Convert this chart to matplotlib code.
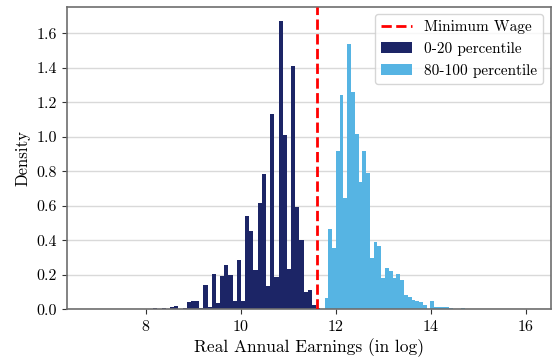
import matplotlib
matplotlib.use("Agg")
import matplotlib.pyplot as plt
import numpy as np

# 数据: 0-20 分位 (navy) 直方图
low_start = 6.748
low_width = 0.0879
low_density = [
    0.001, 0.0, 0.001, 0.002, 0.001, 0.0, 0.002, 0.001,
    0.002, 0.001, 0.002, 0.003, 0.002, 0.002, 0.003, 0.002,
    0.008, 0.003, 0.008, 0.004, 0.013, 0.019, 0.004, 0.008,
    0.042, 0.048, 0.048, 0.008, 0.141, 0.013, 0.205, 0.037,
    0.193, 0.257, 0.197, 0.046, 0.284, 0.046, 0.540, 0.454,
    0.226, 0.617, 0.785, 0.135, 1.133, 0.190, 1.671, 1.010,
    0.234, 1.410, 0.594, 0.402, 0.100, 0.110, 0.025, 0.010,
]

# 数据: 80-100 分位 (light blue) 直方图
high_start = 11.76
high_width = 0.0797
high_density = [
    0.067, 0.465, 0.355, 0.918, 1.242, 0.646, 1.539, 1.261,
    1.016, 0.737, 0.918, 0.790, 0.298, 0.390, 0.366, 0.183,
    0.239, 0.222, 0.183, 0.206, 0.170, 0.083, 0.072, 0.052,
    0.050, 0.045, 0.024, 0.004, 0.050, 0.015, 0.015, 0.014,
    0.012, 0.008, 0.003, 0.002, 0.008, 0.002, 0.001, 0.002,
    0.001, 0.001, 0.002, 0.001, 0.001, 0.001, 0.002, 0.001,
    0.001, 0.001, 0.001, 0.001, 0.001, 0.001,
]

min_wage = 11.6
series_labels = ['0-20 percentile', '80-100 percentile']
x_ticks = [8, 10, 12, 14, 16]
y_ticks = [0.0, 0.2, 0.4, 0.6, 0.8, 1.0, 1.2, 1.4, 1.6]

NAVY = '#1c2566'
SKY = '#56b4e3'

plt.rcParams['font.family'] = 'serif'
plt.rcParams['font.serif'] = ['cmr10', 'DejaVu Serif']
plt.rcParams['mathtext.fontset'] = 'cm'
plt.rcParams['axes.formatter.use_mathtext'] = True
plt.rcParams['axes.unicode_minus'] = False


def draw_hist(ax, start, width, density, color, label):
    """
    按 bin 起点/宽度 画直方图
    """
    edges = start + width * np.arange(len(density) + 1)
    centers = (edges[:-1] + edges[1:]) / 2
    ax.hist(centers, bins=edges, weights=density, color=color,
            label=label, linewidth=0)


fig = plt.figure(figsize=(5.52, 3.62), dpi=100)
ax = fig.add_axes([0.1208, 0.1456, 0.8774, 0.836])

ax.axvline(min_wage, color='red', linestyle='--', linewidth=2, label='Minimum Wage', zorder=3)
draw_hist(ax, low_start, low_width, low_density, NAVY, series_labels[0])
draw_hist(ax, high_start, high_width, high_density, SKY, series_labels[1])

ax.set_xlim(6.33, 16.53)
ax.set_ylim(0, 1.754)
ax.set_xticks(x_ticks)
ax.set_yticks(y_ticks)
ax.set_yticklabels([f'{v:.1f}' for v in y_ticks])

# 只保留水平网格
ax.set_axisbelow(True)
ax.yaxis.grid(True, color='#d9d9d9', linewidth=1.0)
for s in ax.spines.values():
    s.set_color('#6e6e6e')
    s.set_linewidth(1.2)
ax.tick_params(axis='both', labelsize=11.5, length=3.5, color='#333333')

ax.set_xlabel('Real Annual Earnings (in log)', fontsize=12.5, labelpad=3)
ax.set_ylabel('Density', fontsize=12, labelpad=4)

ax.legend(loc='upper right', fontsize=11, framealpha=0.8, edgecolor='#cccccc')

fig.savefig('out.png', dpi=100)
